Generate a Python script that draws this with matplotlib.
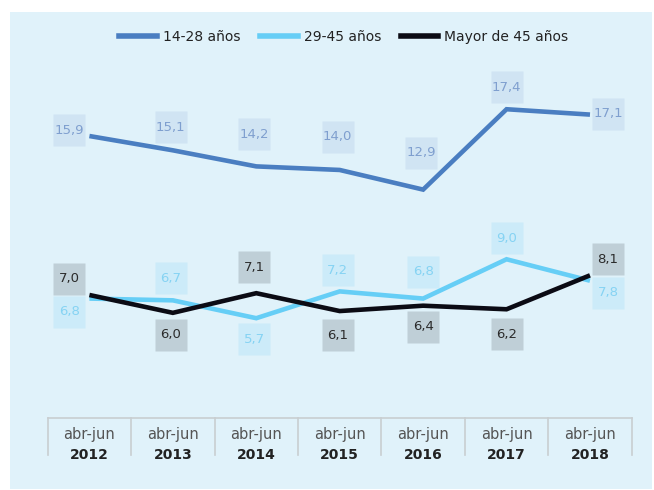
import matplotlib
matplotlib.use("Agg")
import matplotlib.pyplot as plt
from matplotlib.patches import Rectangle
from matplotlib.transforms import ScaledTranslation
from matplotlib.lines import Line2D

# Data
periods = ["abr-jun"] * 7
years = ["2012", "2013", "2014", "2015", "2016", "2017", "2018"]
series_names = ["14-28 años", "29-45 años", "Mayor de 45 años"]
young = [15.9, 15.1, 14.2, 14.0, 12.9, 17.4, 17.1]
middle = [6.8, 6.7, 5.7, 7.2, 6.8, 9.0, 7.8]
older = [7.0, 6.0, 7.1, 6.1, 6.4, 6.2, 8.1]

# Styles: line colour, label box colour, label text colour
LINE_COLORS = ["#4A7EC1", "#66CEF6", "#0B0B14"]
BOX_COLORS = ["#D0E4F3", "#CCEBF9", "#BFCFD7"]
TEXT_COLORS = ["#7F9FCF", "#86D3F3", "#2B2B2B"]

# label offsets from each point, in pixels (dx, dy; dy up)
LABEL_OFFSETS = [
    [(-20, 6), (-2, 23), (-2, 32), (-2, 33), (-2, 37), (0, 22), (18, 1)],
    [(-20, -13), (-2, 22), (-2, -21), (-2, 21), (0, 27), (0, 21), (18, -12)],
    [(-20, 16), (-2, -22), (-2, 26), (-2, -24), (0, -21), (0, -25), (18, 16)],
]

W, H = 654, 490
fig = plt.figure(figsize=(W / 100, H / 100), dpi=100, facecolor="white")

# light blue panel
fig.patches.append(Rectangle((10 / W, 1 / H), 642 / W, 477 / H,
                             transform=fig.transFigure, facecolor="#E0F2FA",
                             edgecolor="none", zorder=-10))

# axes placed so that x=0 sits at the bottom of the table header
ax = fig.add_axes([47.7 / W, 70 / H, 584 / W, 360 / H])
ax.set_xlim(-0.5, 6.5)
ax.set_ylim(0, 360 / 17.86)
ax.patch.set_visible(False)
ax.axis("off")

x = list(range(len(years)))
all_series = [young, middle, older]

for i, vals in enumerate(all_series):
    ax.plot(x, vals, color=LINE_COLORS[i], lw=3.3, zorder=3 + i,
            solid_joinstyle="miter", solid_capstyle="butt")

for i, vals in enumerate(all_series):
    for j, v in enumerate(vals):
        dx, dy = LABEL_OFFSETS[i][j]
        tr = ax.transData + ScaledTranslation(dx / 100, dy / 100, fig.dpi_scale_trans)
        ax.plot([j], [v], marker="s", ms=22.8, color=BOX_COLORS[i],
                mec="none", transform=tr, zorder=2, clip_on=False)
        ax.text(j, v, f"{v:.1f}".replace(".", ","), transform=tr,
                ha="center", va="center", fontsize=9.5, color=TEXT_COLORS[i],
                zorder=6, clip_on=False)

# category table under the chart
tx = ax.get_xaxis_transform()
top_y = 2 / 360
bot_y = -35 / 360
ax.plot([-0.5, 6.5], [top_y, top_y], color="#C9CED1", lw=1.2,
        transform=tx, clip_on=False)
for k in range(len(years) + 1):
    ax.plot([k - 0.5, k - 0.5], [top_y, bot_y], color="#C9CED1", lw=1.2,
            transform=tx, clip_on=False)
for k, (p, yr) in enumerate(zip(periods, years)):
    ax.text(k, -14 / 360, p, transform=tx, ha="center", va="center",
            fontsize=10.5, color="#555555")
    ax.text(k, -35 / 360, yr, transform=tx, ha="center", va="center",
            fontsize=10, fontweight="bold", color="#222222")

# legend
handles = [Line2D([0], [0], color=c, lw=4) for c in LINE_COLORS]
fig.legend(handles, series_names, loc="center", ncol=3, frameon=False,
           bbox_to_anchor=(344 / W, 1 - 37 / H), bbox_transform=fig.transFigure,
           fontsize=10, handlelength=2.7, handletextpad=0.45,
           columnspacing=1.4, labelcolor="#222222")

fig.savefig("out.png", dpi=100, facecolor="white")
